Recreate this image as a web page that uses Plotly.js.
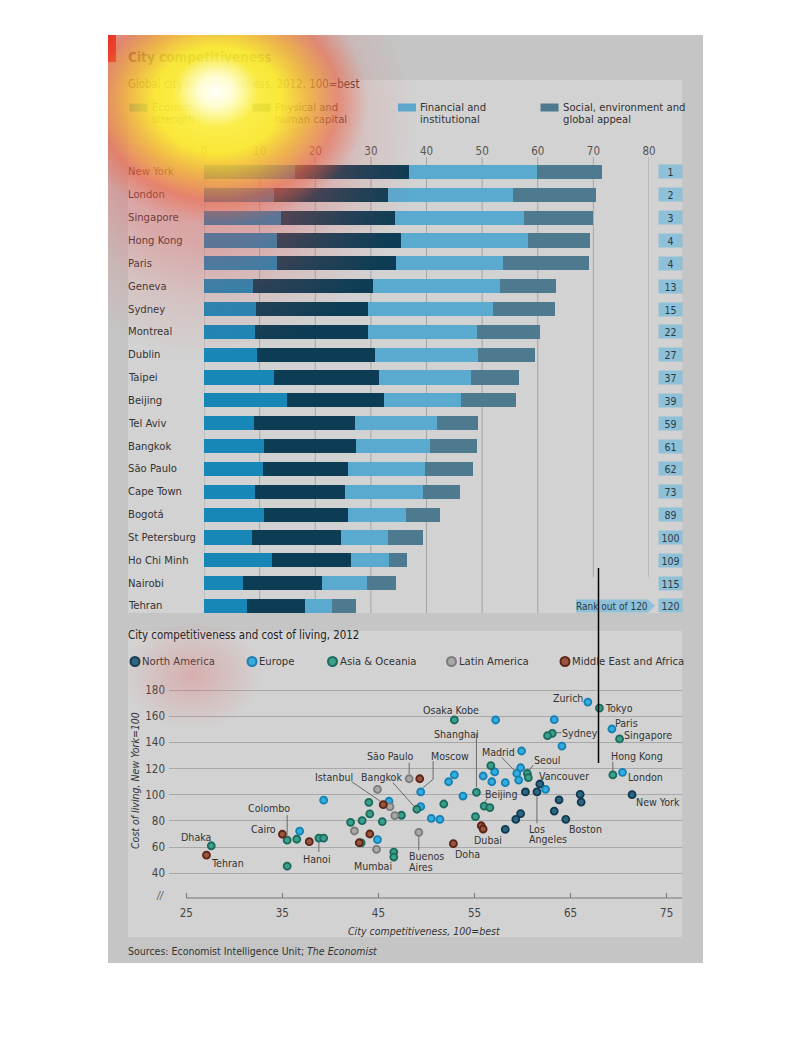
<!DOCTYPE html>
<html><head><meta charset="utf-8">
<script src="https://cdn.plot.ly/plotly-3.0.1.min.js"></script>
<style>
html,body{margin:0;padding:0;background:#fff;}
#wrap{position:relative;width:810px;height:1058px;overflow:hidden;}
#chart{position:absolute;left:0;top:0;width:810px;height:1058px;}
#glow{position:absolute;left:108px;top:35px;width:595px;height:928px;pointer-events:none;
background:
 radial-gradient(ellipse 42px 36px at 108px 56px, rgba(255,255,255,0.97) 0%, rgba(255,255,225,0.9) 40%, rgba(255,255,160,0) 100%),
 radial-gradient(ellipse 150px 125px at 110px 65px, rgba(255,255,90,0.9) 0%, rgba(255,245,40,0.85) 42%, rgba(248,190,40,0.7) 60%, rgba(240,100,60,0.5) 80%, rgba(235,80,80,0) 100%),
 radial-gradient(ellipse 210px 230px at 100px 95px, rgba(235,70,70,0.45) 0%, rgba(232,80,80,0.33) 50%, rgba(230,90,90,0.13) 75%, rgba(230,90,90,0) 100%),
 radial-gradient(ellipse 70px 55px at 85px 640px, rgba(225,100,100,0.33) 0%, rgba(225,100,100,0) 100%);
}
</style></head><body>
<div id="wrap"><div id="chart"></div><div id="glow"></div></div>
<script>
// ---------------- DATA: bar chart ----------------
const cities = ["New York","London","Singapore","Hong Kong","Paris","Geneva","Sydney","Montreal","Dublin","Taipei","Beijing","Tel Aviv","Bangkok","São Paulo","Cape Town","Bogotá","St Petersburg","Ho Chi Minh","Nairobi","Tehran"];
const economic  = [16.3,12.6,13.8,13.2,13.1, 8.8, 9.4, 9.2, 9.5,12.6,15.0, 9.0,10.8,10.6, 9.1,10.8, 8.7,12.2, 7.0, 7.7];
const physical  = [20.6,20.4,20.5,22.3,21.4,21.6,20.1,20.3,21.3,18.9,17.4,18.1,16.6,15.2,16.3,15.0,15.9,14.2,14.2,10.5];
const financial = [22.9,22.6,23.2,22.7,19.3,22.8,22.5,19.6,18.5,16.5,13.8,14.8,13.2,13.9,13.9,10.6, 8.5, 6.9, 8.1, 4.8];
const social    = [11.7,14.9,12.5,11.2,15.4,10.1,11.1,11.3,10.2, 8.6, 9.9, 7.4, 8.4, 8.6, 6.7, 6.0, 6.3, 3.2, 5.3, 4.3];
const ranks     = [1,2,3,4,4,13,15,22,27,37,39,59,61,62,73,89,100,109,115,120];
const seriesNames = ["Economic<br>strength","Physical and<br>human capital","Financial and<br>institutional","Social, environment and<br>global appeal"];
const barTicks = [0,10,20,30,40,50,60,70,80];

// ---------------- DATA: scatter ----------------
const regionNames = ["North America","Europe","Asia & Oceania","Latin America","Middle East and Africa"];
const naX = [71.4,60.3,61.5,61.8,63.8,66.0,66.1,63.3,64.5,59.8,59.3,58.2];
const naY = [100.0,102.1,102.1,108.2,96.0,100.3,94.4,87.5,81.2,85.5,81.2,73.5];
const naNames = ["New York","","Los Angeles","Vancouver","","","","","Boston","","",""];
const euX = [66.8,69.3,70.4,57.2,63.3,64.1,59.9,59.8,59.4,59.6,57.1,55.9,56.8,58.2,62.4,52.9,52.3,53.8,49.4,49.4,50.5,51.4,46.1,44.9,39.3,36.8];
const euY = [170.8,150.2,117.1,157.1,157.3,137.2,133.4,120.6,116.3,111.2,117.4,114.3,109.9,109.2,104.1,115.1,109.9,99.0,102.1,90.9,82.0,81.2,95.0,65.7,95.8,72.2];
const euNames = ["Zurich","Paris","London","","","","","","Madrid","","","","","","","","","","Moscow","","","","","","",""];
const asX = [68.0,70.1,69.4,63.1,62.6,52.9,55.2,56.0,56.6,56.7,60.5,60.6,55.1,27.6,35.5,36.5,38.8,39.3,35.5,42.1,43.3,43.2,44.1,44.0,45.4,47.4,46.6,46.6,49.0,51.8];
const asY = [166.2,142.6,115.1,146.9,145.1,157.1,101.8,91.3,90.1,122.2,116.2,113.0,83.2,61.0,65.3,66.0,66.9,66.9,45.5,78.9,80.2,63.2,85.3,94.2,79.5,84.3,56.2,52.4,88.9,92.9];
const asNames = ["Tokyo","Singapore","Hong Kong","Sydney","","Osaka Kobe","Shanghai","Beijing","","","Seoul","","","Dhaka","Colombo","","Hanoi","","","","","","","","","","","Mumbai","Bangkok",""];
const laX = [48.2,49.2,44.9,46.2,46.7,42.5,44.8];
const laY = [112.2,71.3,104.1,90.9,84.0,72.3,58.3];
const laNames = ["São Paulo","Buenos Aires","","","","",""];
const meX = [27.1,35.0,37.8,45.5,44.1,43.0,49.3,52.8,55.7,55.9];
const meY = [53.9,69.8,64.1,92.4,70.0,63.3,112.2,62.6,76.3,73.8];
const meNames = ["Tehran","Cairo","","Istanbul","","","","Doha","","Dubai"];
const scatterXTicks = [25,35,45,55,65,75];
const scatterYTicks = [40,60,80,100,120,140,160,180];

// ---------------- STYLE / LAYOUT ----------------
const W=810,H=1058;
const X=p=>p/W, Y=p=>1-p/H;
const FONT='"DejaVu Sans Condensed","Liberation Sans Narrow",sans-serif';
const barColors=['#1787b8','#0c3d55','#5aa9cf','#4e7a8f'];
const regionFill=['#2c6682','#33ade0','#3a9f8d','#a8a8a8','#9a5540'];
const regionLine=['#0f3a50','#1580b3','#1b6b5d','#7b7b7b','#5c2515'];
const BAR_DOM=[204,649], BAR_ROWS=[172,606];
const rowStep=(BAR_ROWS[1]-BAR_ROWS[0])/(cities.length-1);
const SC_DOM_X=[169,682], SC_DOM_Y=[680,898];
const SC_XR=[23.199,76.598], SC_YR=[21.10,187.64];
const pxPerX=(SC_DOM_X[1]-SC_DOM_X[0])/(SC_XR[1]-SC_XR[0]);
const pxPerY=(SC_DOM_Y[1]-SC_DOM_Y[0])/(SC_YR[1]-SC_YR[0]);
const FS=11.2, FS_LBL=10.6;

// label placement (pixel offsets from the point)
const labelStyle = {
 "Dhaka":{a:'center',dx:-15,dy:-9},
 "Tehran":{a:'left',dx:4,dy:8},
 "Colombo":{a:'right',dx:4,dy:-32,line:[[0,-25],[0,-5]]},
 "Cairo":{a:'right',dx:-5,dy:-5},
 "Hanoi":{a:'center',dx:-1.5,dy:21,line:[[0,4],[0,14]]},
 "Mumbai":{a:'center',dx:-21,dy:9},
 "Istanbul":{a:'center',dx:-49,dy:-28,line:[[-31.6,-23],[-3,-3.5]]},
 "Bangkok":{a:'center',dx:-35,dy:-32,line:[[-24,-26.6],[-3,-3.2]]},
 "São Paulo":{a:'center',dx:-19,dy:-23,line:[[0,-16],[0,-5]]},
 "Moscow":{a:'center',dx:29,dy:-36,line:[[12.4,-31],[12.4,-12.7],[2,-4]]},
 "Buenos Aires":{a:'left',dx:-11,dy:29,line:[[0,4],[0,18]]},
 "Doha":{a:'center',dx:14,dy:10},
 "Dubai":{a:'center',dx:5,dy:11},
 "Osaka Kobe":{a:'center',dx:-3,dy:-10},
 "Shanghai":{a:'center',dx:-20,dy:-58,line:[[0,-59],[0,-5]]},
 "Beijing":{a:'center',dx:16.5,dy:-12.5,line:[[3.3,-7.7],[1,-4.3]]},
 "Madrid":{a:'center',dx:-18,dy:-21.5,line:[[-15,-16],[-2.5,-3]]},
 "Seoul":{a:'center',dx:20,dy:-13.5,line:[[6,-8.5],[2,-3.5]]},
 "Vancouver":{a:'center',dx:24,dy:-8},
 "Los Angeles":{a:'left',dx:-9,dy:42,line:[[0,4.7],[0,31.3]]},
 "Boston":{a:'center',dx:20,dy:10},
 "New York":{a:'center',dx:25.5,dy:7},
 "London":{a:'center',dx:23,dy:4.5},
 "Hong Kong":{a:'left',dx:-2.5,dy:-19,line:[[0,-13.3],[0,-4]]},
 "Singapore":{a:'left',dx:3.5,dy:-4},
 "Paris":{a:'left',dx:2.5,dy:-5.7},
 "Sydney":{a:'left',dx:8.5,dy:-0.6,line:[[3.5,-0.6],[9,-0.6]]},
 "Tokyo":{a:'left',dx:4.5,dy:0},
 "Zurich":{a:'right',dx:-3.5,dy:-4.3}
};
const twoLine={"Buenos Aires":["Buenos","Aires"],"Los Angeles":["Los","Angeles"]};

const traces=[];
[economic,physical,financial,social].forEach((vals,i)=>{
  traces.push({type:'bar',orientation:'h',x:vals,y:cities,name:seriesNames[i],
    marker:{color:barColors[i],line:{width:0}},width:0.62,xaxis:'x',yaxis:'y',
    showlegend:false,hoverinfo:'skip'});
});
const regions=[[naX,naY,naNames],[euX,euY,euNames],[asX,asY,asNames],[laX,laY,laNames],[meX,meY,meNames]];
regions.forEach((r,i)=>{
  traces.push({type:'scatter',mode:'markers',x:r[0],y:r[1],text:r[2],name:regionNames[i],
    xaxis:'x2',yaxis:'y2',showlegend:false,hoverinfo:'text',
    marker:{size:7,color:regionFill[i],line:{color:regionLine[i],width:1.8}}});
});

const shapes=[];
const R=(x0,y0,x1,y1,c,layer)=>shapes.push({type:'rect',xref:'paper',yref:'paper',x0:X(x0),x1:X(x1),y0:Y(y1),y1:Y(y0),fillcolor:c,line:{width:0},layer:layer||'below'});
R(108,35,703,963,'#c5c5c5');
R(128,80,682,613,'#d2d2d2');
R(128,631,682,937,'#d2d2d2');
R(108,35,116,62,'#e3120b');

// bar gridlines
barTicks.forEach(v=>{
  shapes.push({type:'line',xref:'x',yref:'paper',x0:v,x1:v,y0:Y(157),y1:Y(v>=70?577:613),
    line:{color:'#a5a5a5',width:1},layer:'below'});
});
// bar legend squares
const legSq=[129.5,252.5,398,540.5];
legSq.forEach((lx,i)=>R(lx,103.5,lx+18,111.5,barColors[i],'above'));

// scatter x axis line
shapes.push({type:'line',xref:'x2',yref:'y2 domain',x0:scatterXTicks[0],x1:SC_XR[1],y0:0,y1:0,line:{color:'#777',width:1}});
// rank label box + pointer
R(576,599.5,648,612.5,'#8ec0d8','above');
shapes.push({type:'path',xref:'paper',yref:'paper',path:`M ${X(648)} ${Y(599.5)} L ${X(655)} ${Y(606)} L ${X(648)} ${Y(612.5)} Z`,fillcolor:'#8ec0d8',line:{width:0}});
// scatter legend circles
const legCx=[135,252,332.5,451.5,565];
legCx.forEach((cx,i)=>{
  shapes.push({type:'circle',xref:'paper',yref:'paper',x0:X(cx-4.5),x1:X(cx+4.5),y0:Y(666),y1:Y(657),
    fillcolor:regionFill[i],line:{color:regionLine[i],width:2}});
});
// leader lines
regions.forEach(r=>{
  r[2].forEach((nm,k)=>{
    if(!nm||!labelStyle[nm]||!labelStyle[nm].line) return;
    const pts=labelStyle[nm].line.map(p=>[r[0][k]+p[0]/pxPerX, r[1][k]-p[1]/pxPerY]);
    shapes.push({type:'path',xref:'x2',yref:'y2',path:'M '+pts.map(p=>p[0]+','+p[1]).join(' L '),
      line:{color:'#6a6a6a',width:1}});
  });
});
// stray vertical line
shapes.push({type:'line',xref:'paper',yref:'paper',x0:X(598.5),x1:X(598.5),y0:Y(568),y1:Y(763),line:{color:'#000',width:1.5}});

const ann=[];
const A=o=>ann.push(Object.assign({showarrow:false,xref:'paper',yref:'paper',xanchor:'left',yanchor:'middle',
  font:{family:FONT,size:FS,color:'#333'}},o));
A({x:X(126),y:Y(57),text:'<b>City competitiveness</b>',font:{family:FONT,size:13.5,color:'#3a3a3a'}});
A({x:X(126),y:Y(84),text:'Global city competitiveness, 2012, 100=best',font:{family:FONT,size:11.4,color:'#333'}});
// bar legend texts (one annotation per line for tight line spacing)
const legTx=[149.5,272.5,418,560.5];
legTx.forEach((tx,i)=>{
  seriesNames[i].split('<br>').forEach((ln,j)=>A({x:X(tx),y:Y(107.5+j*12),text:ln,font:{family:FONT,size:FS,color:'#333'}}));
});
// city labels and ranks
cities.forEach((c,i)=>{
  A({x:X(126),yref:'y',y:c,text:c,font:{family:FONT,size:FS,color:'#333'}});
  A({x:X(670.5),xanchor:'center',yref:'y',y:c,text:String(ranks[i]),bgcolor:'#8ec0d8',width:21,height:11,borderpad:1,
    font:{family:FONT,size:10.5,color:'#2c3a44'}});
});
A({x:X(612),xanchor:'center',y:Y(606),text:'Rank out of 120',font:{family:FONT,size:10,color:'#2c3a44'}});
// scatter texts
A({x:X(126),y:Y(635),text:'City competitiveness and cost of living, 2012',font:{family:FONT,size:11.4,color:'#222'}});
regionNames.forEach((n,i)=>A({x:X(legCx[i]+5),y:Y(661.5),text:n,font:{family:FONT,size:FS,color:'#333'}}));
A({x:X(135),xanchor:'center',y:Y(781),textangle:-90,text:'<i>Cost of living, New York=100</i>',font:{family:FONT,size:10.5,color:'#333'}});
A({x:X(424.5),xanchor:'center',y:Y(931),text:'<i>City competitiveness, 100=best</i>',font:{family:FONT,size:10.5,color:'#333'}});
A({x:X(160),xanchor:'center',y:Y(895),text:'<i>//</i>',font:{family:FONT,size:10,color:'#555'}});
A({x:X(126),y:Y(951),text:'Sources: Economist Intelligence Unit; <i>The Economist</i>',font:{family:FONT,size:10.5,color:'#333'}});
// point labels
regions.forEach(r=>{
  r[2].forEach((nm,k)=>{
    if(!nm||!labelStyle[nm]) return;
    const s=labelStyle[nm];
    const lines=twoLine[nm]||[nm];
    lines.forEach((ln,j)=>{
      const off=(j-(lines.length-1)/2)*10.5;
      ann.push({xref:'x2',yref:'y2',x:r[0][k],y:r[1][k],showarrow:false,xanchor:s.a,yanchor:'middle',align:'left',
        xshift:s.dx,yshift:-(s.dy+off),text:ln,font:{family:FONT,size:FS_LBL,color:'#333'},borderpad:0});
    });
  });
});

const layout={
  width:W,height:H,margin:{l:0,r:0,t:0,b:0},autosize:false,
  paper_bgcolor:'#ffffff',plot_bgcolor:'rgba(0,0,0,0)',
  barmode:'stack',bargap:0,showlegend:false,
  xaxis:{domain:[X(BAR_DOM[0]),X(BAR_DOM[1])],range:[0,80],side:'top',anchor:'y',tickvals:barTicks,
    showgrid:false,zeroline:false,showline:false,ticks:'',ticklabelstandoff:2,
    tickfont:{family:FONT,size:11.5,color:'#555'},fixedrange:true},
  yaxis:{domain:[Y(BAR_ROWS[1]+rowStep/2),Y(BAR_ROWS[0]-rowStep/2)],type:'category',autorange:'reversed',
    anchor:'x',showticklabels:false,showgrid:false,zeroline:false,showline:false,ticks:'',fixedrange:true},
  xaxis2:{domain:[X(SC_DOM_X[0]),X(SC_DOM_X[1])],range:SC_XR,anchor:'y2',tickvals:scatterXTicks,
    ticks:'inside',ticklen:5,tickcolor:'#777',tickwidth:1,showgrid:false,zeroline:false,showline:false,
    tickfont:{family:FONT,size:11.5,color:'#444'},ticklabelstandoff:6,fixedrange:true},
  yaxis2:{domain:[Y(SC_DOM_Y[1]),Y(SC_DOM_Y[0])],range:SC_YR,anchor:'x2',tickvals:scatterYTicks,
    showgrid:true,gridcolor:'#a8a8a8',gridwidth:1,zeroline:false,showline:false,ticks:'',
    tickfont:{family:FONT,size:11.5,color:'#444'},ticklabelstandoff:3,fixedrange:true},
  shapes:shapes,annotations:ann
};
Plotly.newPlot('chart',traces,layout,{displayModeBar:false,staticPlot:true});
</script>
</body></html>
